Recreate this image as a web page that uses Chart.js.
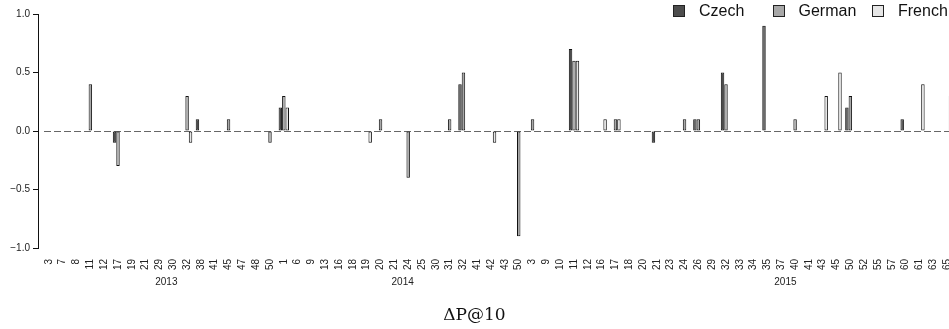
<!DOCTYPE html>
<html>
<head>
<meta charset="utf-8">
<script src="https://cdn.jsdelivr.net/npm/chart.js@4"></script>
<style>
  html, body { margin: 0; padding: 0; background: #fff; overflow: hidden; }
  #wrap { position: relative; width: 949px; height: 329px; overflow: hidden; }
  #legend { position: absolute; left: 673px; top: 2px; display: flex; font: 16px "Liberation Sans", Arial, sans-serif; color: #111; line-height: 18px; }
  #legend .item { display: flex; align-items: center; width: 99.5px; }
  #legend .item:last-child { width: auto; }
  #legend .sw { width: 10px; height: 10px; border: 1px solid #222; margin-right: 14px; }
  #title { position: absolute; left: 0; width: 949px; top: 304px; text-align: center; font: 17px "DejaVu Serif", serif; color: #111; }
</style>
</head>
<body>
<div id="wrap">
  <canvas id="chart" width="954" height="329"></canvas>
  <div id="legend"></div>
  <div id="title">ΔP@10</div>
</div>
<script>
// week labels, grouped by year
const weeks2013 = ['3','7','8','11','12','17','19','21','29','30','32','38','41','45','47','48','50'];
const weeks2014 = ['1','6','9','13','16','18','19','20','21','24','25','30','31','32','41','42','43','50'];
const weeks2015 = ['3','9','10','11','12','16','17','18','20','21','23','24','26','29','32','33','34','35','37','40','41','43','45','50','52','55','57','60','61','63','65'];
const weekLabels = [...weeks2013, ...weeks2014, ...weeks2015];

const yearLabels = ['2013', '2014', '2015'];
const yearAt = [8.5, 25.6, 53.3]; // where the year text sits, in category units

const czech = [
  0, 0, 0, 0, 0, -0.1, 0, 0, 0, 0, 0, 0.1, 0, 0, 0, 0, 0,
  0.2, 0, 0, 0, 0, 0, 0, 0, 0, 0, 0, 0, 0, 0.4, 0, 0, 0, 0,
  0, 0, 0, 0.7, 0, 0, 0, 0, 0, -0.1, 0, 0, 0.1, 0, 0.5, 0, 0, 0.9, 0, 0, 0, 0, 0, 0.2, 0, 0, 0, 0.1, 0, 0, 0
];
const german = [
  0, 0, 0, 0.4, 0, -0.3, 0, 0, 0, 0, 0.3, 0, 0, 0.1, 0, 0, -0.1,
  0.3, 0, 0, 0, 0, 0, 0, 0.1, 0, -0.4, 0, 0, 0.1, 0.5, 0, 0, 0, -0.9,
  0.1, 0, 0, 0.6, 0, 0, 0.1, 0, 0, 0, 0, 0.1, 0.1, 0, 0.4, 0, 0, 0, 0, 0.1, 0, 0, 0, 0.3, 0, 0, 0, 0, 0, 0, 0
];
const french = [
  0, 0, 0, 0, 0, 0, 0, 0, 0, 0, -0.1, 0, 0, 0, 0, 0, 0,
  0.2, 0, 0, 0, 0, 0, -0.1, 0, 0, 0, 0, 0, 0, 0, 0, -0.1, 0, 0,
  0, 0, 0, 0.6, 0, 0.1, 0.1, 0, 0, 0, 0, 0, 0, 0, 0, 0, 0, 0, 0, 0, 0, 0.3, 0.5, 0, 0, 0, 0, 0, 0.4, 0, 0.3
];

const series = [
  { name: 'Czech', data: czech, color: '#4d4d4d' },
  { name: 'German', data: german, color: '#a8a8a8' },
  { name: 'French', data: french, color: '#e6e6e6' }
];

const font = '"Liberation Sans", Arial, sans-serif';

// dashed zero line + year captions
const extras = {
  id: 'extras',
  beforeDatasetsDraw(chart) {
    const { ctx, chartArea, scales } = chart;
    const y0 = Math.round(scales.y.getPixelForValue(0)) + 0.5;
    ctx.save();
    ctx.strokeStyle = '#666';
    ctx.lineWidth = 1;
    ctx.setLineDash([7, 3]);
    ctx.beginPath();
    ctx.moveTo(chartArea.left + 2, y0);
    ctx.lineTo(chartArea.right, y0);
    ctx.stroke();
    ctx.restore();
  },
  afterDraw(chart) {
    const { ctx, chartArea, scales } = chart;
    ctx.save();
    ctx.fillStyle = '#222';
    ctx.font = '10px ' + font;
    ctx.textAlign = 'center';
    ctx.textBaseline = 'middle';
    yearLabels.forEach((t, i) => {
      ctx.fillText(t, scales.x.getPixelForValue(yearAt[i]), chartArea.bottom + 34);
    });
    ctx.restore();
  }
};

new Chart(document.getElementById('chart'), {
  type: 'bar',
  data: {
    labels: weekLabels,
    datasets: series.map(s => ({
      label: s.name,
      data: s.data,
      backgroundColor: s.color,
      borderColor: '#111',
      borderWidth: 1,
      borderSkipped: false,
      categoryPercentage: 0.75,
      barPercentage: 1.0
    }))
  },
  options: {
    responsive: false,
    animation: false,
    layout: { padding: { top: 14, right: 0, bottom: 0, left: 0 } },
    plugins: { legend: { display: false }, tooltip: { enabled: false } },
    scales: {
      x: {
        grid: { display: false },
        border: { display: false },
        ticks: {
          autoSkip: false, minRotation: 90, maxRotation: 90, padding: 3,
          color: '#222', font: { family: font, size: 10 }
        },
        afterFit(s) { s.height = 81; s.paddingLeft = 0; s.paddingRight = 0; }
      },
      y: {
        position: 'left',
        weight: 1,
        min: -1, max: 1,
        ticks: {
          stepSize: 0.5, padding: 3, color: '#222', font: { family: font, size: 10 },
          callback: v => v.toFixed(1).replace('-', '\u2212')
        },
        grid: { drawOnChartArea: false, drawTicks: true, tickLength: 5, color: '#111' },
        border: { display: true, color: '#111', width: 1 },
        afterFit(s) { s.width = 38; s.paddingTop = 0; s.paddingBottom = 0; }
      },
      gap: {
        type: 'linear',
        position: 'left',
        weight: 0,
        grid: { display: false },
        border: { display: false },
        ticks: { display: false },
        afterFit(s) { s.width = 4; }
      }
    }
  },
  plugins: [extras]
});

// legend
const legend = document.getElementById('legend');
series.forEach(s => {
  const item = document.createElement('div');
  item.className = 'item';
  item.innerHTML = `<span class="sw" style="background:${s.color}"></span><span>${s.name}</span>`;
  legend.appendChild(item);
});
</script>
</body>
</html>
